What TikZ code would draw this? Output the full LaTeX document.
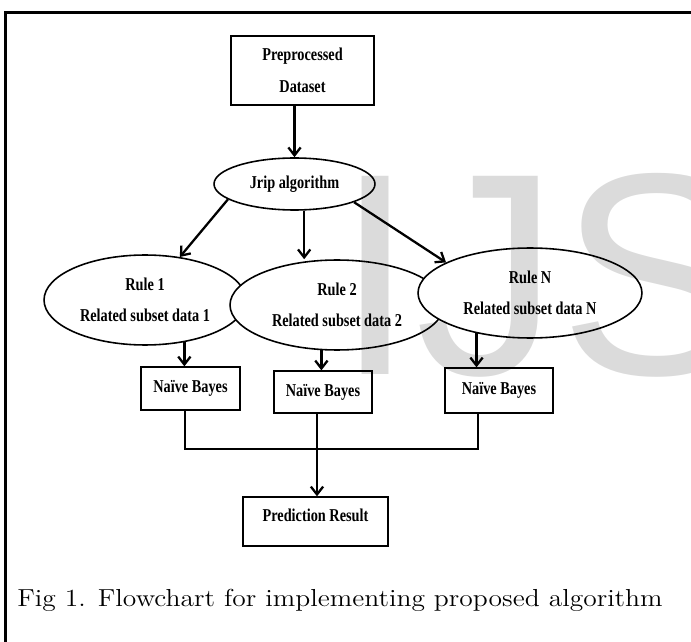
\documentclass[tikz,border=0pt]{standalone}
\usepackage{fontspec}
\usetikzlibrary{shapes.geometric,arrows.meta,calc}
\newfontfamily\chartfont[FakeStretch=0.79]{Liberation Serif}
\newfontfamily\markfont{Liberation Sans}
\newfontfamily\capfont[FakeStretch=1.12]{Latin Modern Roman}

\begin{document}
\begin{tikzpicture}[x=0.02cm,y=-0.02cm,
		box/.style={draw,line width=0.75pt,inner sep=0pt,align=center,font=\chartfont\bfseries\fontsize{10.3}{18}\selectfont},
		oval/.style={ellipse,draw,fill=white,line width=0.9pt,inner sep=0pt,align=center,font=\chartfont\bfseries\fontsize{10.3}{18}\selectfont},
		arr/.style={line width=1.3pt,-{Straight Barb[length=4.5pt,width=7pt]}},
		bus/.style={line width=1.7pt}]
		\clip (0,0) rectangle (691,642);
		\draw[line width=1.2pt] (5.5,12.5) rectangle (720,680);
		
		\node[box,minimum width=2.86cm,minimum height=1.38cm] (data) at (302.5,70.5) {Preprocessed\\Dataset};
		\node[oval,minimum width=3.22cm,minimum height=1.04cm] (jrip) at (294.5,184) {Jrip algorithm};
		\node[oval,minimum width=4.04cm,minimum height=1.8cm] (rule1) at (145,300) {Rule 1\\Related subset data 1};
		\node[oval,minimum width=4.28cm,minimum height=1.8cm] (rule2) at (337,305) {Rule 2\\Related subset data 2};
		\node[oval,minimum width=4.48cm,minimum height=1.8cm] (ruleN) at (530,293) {Rule N\\Related subset data N};
		\node[box,minimum width=1.98cm,minimum height=0.86cm] (nb1) at (190.5,388.5) {Naïve Bayes};
		\node[box,minimum width=1.96cm,minimum height=0.84cm] (nb2) at (323,392) {Naïve Bayes};
		\node[box,minimum width=2.16cm,minimum height=0.9cm] (nb3) at (499,390.5) {Naïve Bayes};
		\node[box,minimum width=2.9cm,minimum height=0.98cm,text depth=7.5pt] (pred) at (315.5,521.5) {Prediction Result};
		
		\draw[arr] (data.south -| jrip.north) -- (jrip.north);
		\draw[arr] (jrip.193) -- (rule1.51);
		\draw[arr] (jrip.-70) -- (jrip.-70 |- rule2.north);
		\draw[arr] (jrip.-17) -- (ruleN.160);
		\draw[arr] (rule1.-47) -- (rule1.-47 |- nb1.north);
		\draw[arr] (rule2.-109) -- (rule2.-109 |- nb2.north);
		\draw[arr] (ruleN.-143) -- (ruleN.-143 |- nb3.north);
		
		\coordinate (join) at (317,449);
		\draw[bus] ($(nb1.south)+(-5.5,0)$) |- (join) -| ($(nb3.south)+(-21,0)$);
		\draw[bus] (nb2.south -| join) -- (join);
		\draw[arr] (join) -- (join |- pred.north);
		
		\node[anchor=base west,inner sep=0pt,font=\capfont\fontsize{14}{16}\selectfont] (caption) at (17,606) {Fig 1. Flowchart for implementing proposed algorithm};
		%watermark
		\node[anchor=base west,inner sep=0pt,text=black,text opacity=0.14,font=\markfont\fontsize{164}{164}\selectfont] (mark) at (335,375) {IJS};
\end{tikzpicture}
\end{document}
